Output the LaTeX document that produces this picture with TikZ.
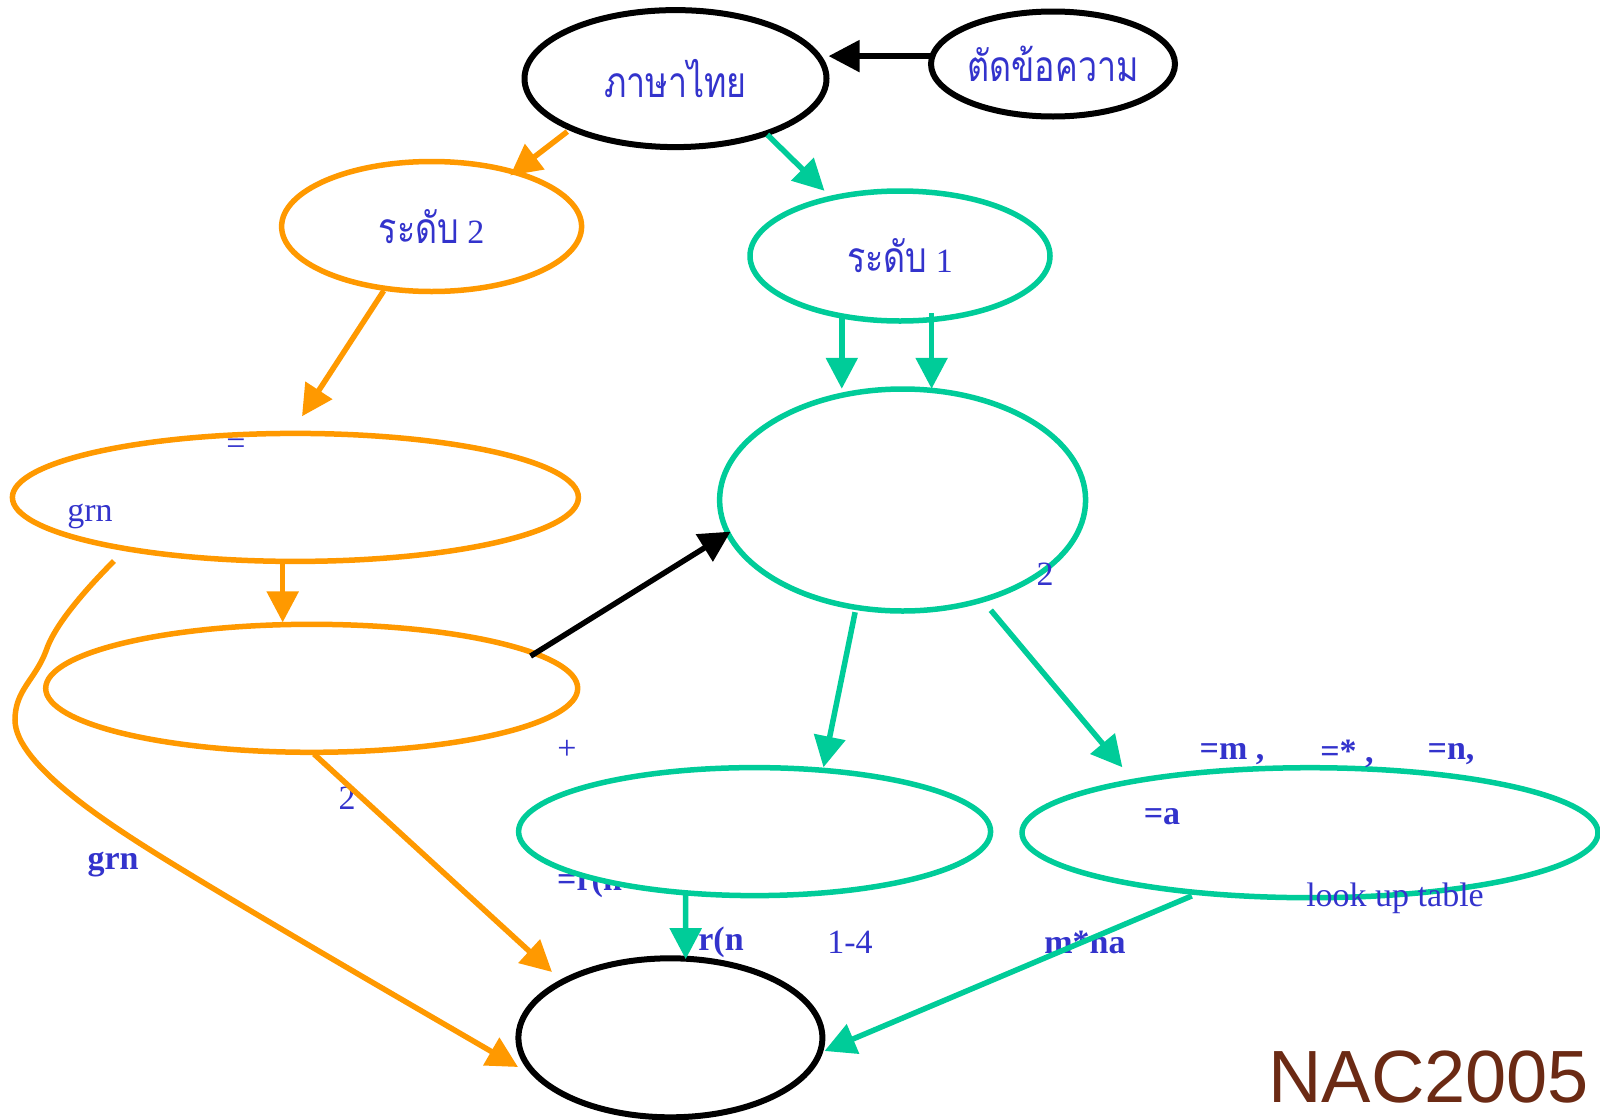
\documentclass[tikz,border=0pt]{standalone}
\usepackage{fontspec}
\setmainfont{Liberation Serif}
\newfontfamily\thaifont[Script=Thai]{Loma}
\newfontfamily\nacfont{Liberation Sans}
\usetikzlibrary{shapes.geometric,arrows.meta}

\definecolor{txtblue}{HTML}{3333CC}
\definecolor{orng}{HTML}{FF9900}
\definecolor{mint}{HTML}{00CC99}
\definecolor{nacbrown}{HTML}{6B2A14}

\newcommand{\thaiword}[1]{\scalebox{1}[1.25]{\thaifont #1}}

\tikzset{
  ell/.style={ellipse, inner sep=0pt, outer sep=0pt, line width=5.5pt, fill=white,
    text=txtblue, font=\fontsize{34}{40}\selectfont},
  arr/.style={line width=5.5pt, -{Triangle[length=31pt,width=31pt]}},
  lbl/.style={text=txtblue, inner sep=0pt, font=\fontsize{34}{40}\selectfont},
  lblb/.style={text=txtblue, inner sep=0pt, font=\fontsize{34}{40}\selectfont\bfseries},
}

\begin{document}
\begin{tikzpicture}[x=1pt,y=1pt]
\useasboundingbox (0,0) rectangle (1600,-1119);

% label partly covered by the filled ellipse drawn after it
\node[lblb, anchor=west] (rnhidden) at (557,-882) {=r(n};

% ellipses
\node[ell, draw=black, line width=6pt, minimum width=302pt, minimum height=137pt] (thai) at (675.5,-78.6)
  {\thaiword{ภาษาไทย}};
\node[ell, draw=black, line width=6pt, minimum width=244pt, minimum height=105pt] (cut) at (1053,-64)
  {\thaiword{ตัดข้อความ}};
\node[ell, draw=orng, minimum width=300pt, minimum height=130pt] (lvtwo) at (431.6,-226.5)
  {\thaiword{ระดับ} 2};
\node[ell, draw=mint, minimum width=300pt, minimum height=130pt] (lvone) at (900,-256)
  {\thaiword{ระดับ} 1};
\node[ell, draw=orng, minimum width=566pt, minimum height=128pt] (ea) at (295.4,-497.4) {};
\node[ell, draw=orng, minimum width=532pt, minimum height=128pt] (eb) at (311.7,-688.3) {};
\node[ell, draw=mint, minimum width=366pt, minimum height=222pt] (ec) at (902.6,-500) {};
\node[ell, draw=mint, minimum width=472pt, minimum height=128pt] (ed) at (754.6,-831.6) {};
\node[ell, draw=mint, minimum width=576pt, minimum height=130pt] (ee) at (1310,-832.7) {};
\node[ell, draw=black, line width=6pt, minimum width=304pt, minimum height=159pt] (ef) at (670.4,-1037.8) {};

% labels
\node[lbl] (eqa) at (236,-447) {=};
\node[lbl] (grna) at (90,-516) {grn};
\node[lbl] (plus) at (567,-750) {+};
\node[lbl] (twob) at (347,-798) {2};
\node[lblb] (grnb) at (113,-865) {grn};
\node[lblb] (mlab) at (1232,-754) {=m ,};
\node[lblb] (starlab) at (1347,-754) {=* ,};
\node[lblb] (nlab) at (1451,-754) {=n,};
\node[lblb] (alab) at (1162,-817) {=a};
\node[lbl] (lut) at (1395,-898) {look up table};
\node[lblb] (rn) at (721,-942) {r(n};
\node[lbl] (onefour) at (850,-942) {1-4};
\node[lblb] (mna) at (1085,-942) {m*na};
\node[lbl] (twoc) at (1045,-574) {2};
\node[anchor=base west, inner sep=0pt, text=nacbrown, font=\nacfont\fontsize{74}{86}\selectfont]
  (nac) at (1268,-1102) {NAC2005};

% connectors
\draw[arr, black] ([shift={(-121.4,7.9)}]cut.center) -- ([shift={(153.1,22.5)}]thai.center);
\draw[arr, orng] ([shift={(-108.2,-53)}]thai.center) -- ([shift={(78.6,51)}]lvtwo.center);
\draw[arr, mint] ([shift={(91.8,-56.1)}]thai.center) -- ([shift={(-75.5,65.2)}]lvone.center);
\draw[arr, orng] ([shift={(-47.9,-64.3)}]lvtwo.center) -- ([shift={(6.6,81.1)}]ea.center);
\draw[arr, orng] ([shift={(-12.7,-63.8)}]ea.center) -- ([shift={(-29,65.9)}]eb.center);
\draw[arr, black] ([shift={(218.9,32.2)}]eb.center) -- ([shift={(-172,-31.6)}]ec.center);
\draw[arr, mint] ([shift={(-58.2,-60.3)}]lvone.center) -- ([shift={(-60.8,111.2)}]ec.center);
\draw[arr, mint] ([shift={(31.6,-57.3)}]lvone.center) -- ([shift={(29,111.2)}]ec.center);
\draw[arr, mint] ([shift={(-47.5,-112.2)}]ec.center) -- ([shift={(68.9,64.3)}]ed.center);
\draw[arr, mint] ([shift={(88.2,-110.2)}]ec.center) -- ([shift={(-187.6,65.4)}]ee.center);
\draw[arr, mint] ([shift={(-68.9,-63.3)}]ed.center) -- ([shift={(15.3,78.6)}]ef.center);
\draw[arr, mint] ([shift={(-118.2,-63.2)}]ee.center) -- ([shift={(154.1,-13.2)}]ef.center);
\draw[arr, orng] ([shift={(2.3,-65.7)}]eb.center) -- ([shift={(-118.4,65.8)}]ef.center);

% long orange curve round the left side
\coordinate (bendone) at (46,-651);
\coordinate (bendtwo) at (15,-720);
\coordinate (bendthree) at (168,-861);
\draw[arr, orng] ([shift={(-181.4,-63.6)}]ea.center)
  .. controls +(-30,-30) and +(8,25) .. (bendone)
  .. controls +(-11,-29) and +(0,30) .. (bendtwo)
  .. controls +(0,-45) and +(-55,34) .. (bendthree)
  .. controls +(96,-59) and +(-98,57) .. ([shift={(-152.4,-29.2)}]ef.center);
\end{tikzpicture}
\end{document}
